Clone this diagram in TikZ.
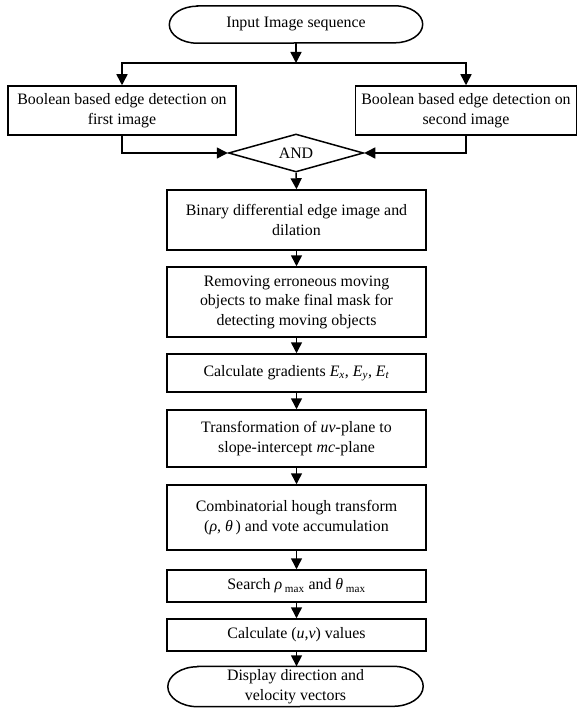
\documentclass[tikz,border=0pt]{standalone}
\usepackage{fontspec}
\setmainfont{Liberation Serif}
\usetikzlibrary{arrows.meta,shapes.geometric}
\newcommand{\diagfont}{\fontsize{15.9}{19.5}\selectfont}
\newcommand{\termoutline}[3]{%
  \draw[line] ([xshift=#2]#1.north west) -- ([xshift=-#2]#1.north east)
    arc[start angle=90,end angle=-90,x radius=#2,y radius=#3]
    -- ([xshift=#2]#1.south west)
    arc[start angle=270,end angle=90,x radius=#2,y radius=#3] -- cycle;}
\begin{document}
\begin{tikzpicture}[x=1pt,y=1pt,
  line/.style={line width=1.5pt},
  arr/.style={line, -{Triangle[length=11pt,width=11pt]}},
  proc/.style={draw, line width=1.5pt, rectangle, align=center, inner sep=2pt, font=\diagfont},
  term/.style={rectangle, align=center, inner sep=2pt, font=\diagfont},
  cond/.style={draw, line width=1.5pt, diamond, aspect=3.5, inner sep=1pt, font=\diagfont,
               minimum width=135pt, minimum height=38pt}
]
\useasboundingbox (0,0) rectangle (578,-708);

\node[term, minimum width=253pt, minimum height=37pt] (start) at (296,-24.5) {Input Image sequence};
\termoutline{start}{28pt}{18.5pt}
\coordinate (split) at (296,-63);

\node[proc, minimum width=228pt, minimum height=49pt] (L) at (122,-110.5)
  {Boolean based edge detection on\\first image};
\node[proc, minimum width=221pt, minimum height=49pt] (R) at (466,-110.5)
  {Boolean based edge detection on\\second image};
\node[cond] (and) at (296,-153) {AND};

\node[proc, minimum width=259pt, minimum height=60pt] (b1) at (296.5,-220)
  {Binary differential edge image and\\dilation};
\node[proc, minimum width=259pt, minimum height=70pt] (b2) at (296.5,-302)
  {Removing erroneous moving\\objects to make final mask for\\detecting moving objects};
\node[proc, minimum width=259pt, minimum height=38pt] (b3) at (296.5,-373)
  {Calculate gradients \textit{E}\textsubscript{\textit{x}}, \textit{E}\textsubscript{\textit{y}}, \textit{E}\textsubscript{\textit{t}}};
\node[proc, minimum width=259pt, minimum height=57pt] (b4) at (296.5,-438.5)
  {Transformation of \textit{uv}-plane to\\slope-intercept \textit{mc}-plane};
\node[proc, minimum width=259pt, minimum height=65pt] (b5) at (296.5,-517.5)
  {Combinatorial hough transform\\(\textit{ρ}, \textit{θ}\,) and vote accumulation};
\node[proc, minimum width=259pt, minimum height=32pt] (b6) at (296.5,-586)
  {Search \textit{ρ}\,\textsubscript{max} and \textit{θ}\,\textsubscript{max}};
\node[proc, minimum width=259pt, minimum height=32pt] (b7) at (296.5,-635)
  {Calculate (\textit{u},\textit{v}) values};
\node[term, minimum width=255pt, minimum height=40pt] (end) at (295.5,-686.5)
  {Display direction and\\velocity vectors};
\termoutline{end}{30pt}{20pt}

\draw[arr] (start.south) -- (split);
\draw[arr] (split) -| (L.north);
\draw[arr] (split) -| (R.north);
\draw[arr] (L.south) |- (and.west);
\draw[arr] (R.south) |- (and.east);
\draw[arr] (and.south) -- (b1.north);
\draw[arr] (b1) -- (b2);
\draw[arr] (b2) -- (b3);
\draw[arr] (b3) -- (b4);
\draw[arr] (b4) -- (b5);
\draw[arr] (b5) -- (b6);
\draw[arr] (b6) -- (b7);
\draw[arr] (b7.south) -- (b7.south |- end.north);
\end{tikzpicture}
\end{document}
